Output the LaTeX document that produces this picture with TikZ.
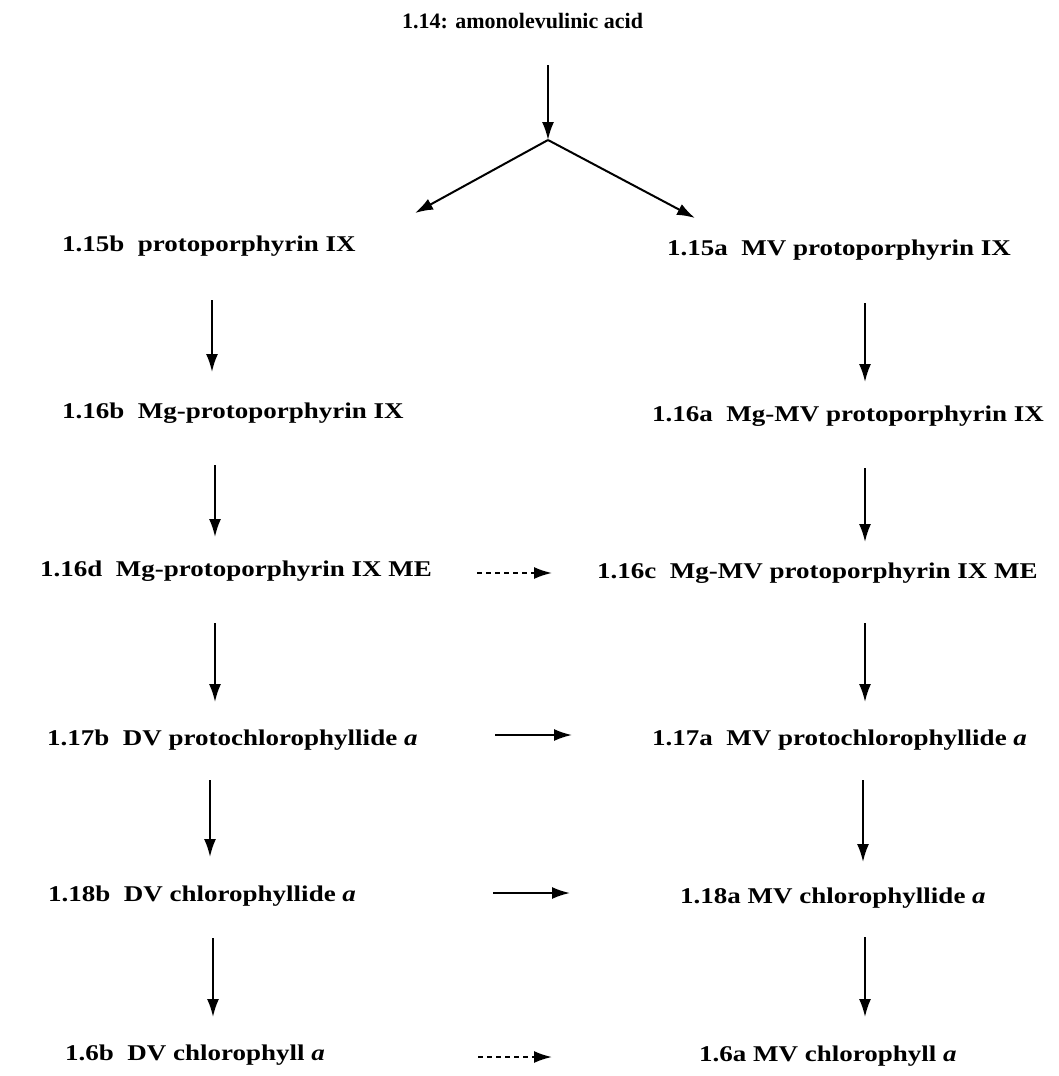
\documentclass[tikz,border=0pt]{standalone}
\usepackage{fontspec}
\setmainfont{Liberation Serif}[FakeStretch=1.2]
\newfontfamily\titlefont{Liberation Serif}
\usetikzlibrary{arrows.meta}
\begin{document}
\begin{tikzpicture}[x=1pt,y=-1pt,
  lbl/.style={anchor=base west,inner sep=0pt,font=\fontsize{22.5}{26}\selectfont\bfseries},
  ttl/.style={anchor=base west,inner sep=0pt,font=\titlefont\fontsize{22}{26}\selectfont\bfseries},
  arr/.style={line width=2pt,-{Latex[length=18pt,width=12pt]}},
  darr/.style={line width=2pt,dash pattern=on 5pt off 4pt,-{Latex[length=18pt,width=12pt]}}]
\useasboundingbox[fill=white] (0,0) rectangle (1058,1076);
% title
\node[ttl] (t) at (402,28) {1.14: amonolevulinic acid};
% left column
\node[lbl] (l1) at (62,251) {1.15b\hspace{0.6em}protoporphyrin IX};
\node[lbl] (l2) at (62,418) {1.16b\hspace{0.6em}Mg-protoporphyrin IX};
\node[lbl] (l3) at (40,576) {1.16d\hspace{0.6em}Mg-protoporphyrin IX ME};
\node[lbl] (l4) at (47,745) {1.17b\hspace{0.6em}DV protochlorophyllide \textit{a}};
\node[lbl] (l5) at (48,901) {1.18b\hspace{0.6em}DV chlorophyllide \textit{a}};
\node[lbl] (l6) at (65,1060) {1.6b\hspace{0.6em}DV chlorophyll \textit{a}};
% right column
\node[lbl] (r1) at (667,255) {1.15a\hspace{0.6em}MV protoporphyrin IX};
\node[lbl] (r2) at (652,421) {1.16a\hspace{0.6em}Mg-MV protoporphyrin IX};
\node[lbl] (r3) at (597,578) {1.16c\hspace{0.6em}Mg-MV protoporphyrin IX ME};
\node[lbl] (r4) at (652,745) {1.17a\hspace{0.6em}MV protochlorophyllide \textit{a}};
\node[lbl] (r5) at (680,903) {1.18a MV chlorophyllide \textit{a}};
\node[lbl] (r6) at (699,1061) {1.6a MV chlorophyll \textit{a}};
% branch
\coordinate (b0) at (548,65);
\coordinate (bp) at (548,140);
\coordinate (bl) at (415,213);
\coordinate (br) at (695,218);
\draw[arr] (b0) -- (bp);
\draw[arr] (bp) -- (bl);
\draw[arr] (bp) -- (br);
% left verticals
\coordinate (a1s) at (212,300); \coordinate (a1e) at (212,372);
\coordinate (a2s) at (215,465); \coordinate (a2e) at (215,537);
\coordinate (a3s) at (215,623); \coordinate (a3e) at (215,702);
\coordinate (a4s) at (210,780); \coordinate (a4e) at (210,857);
\coordinate (a5s) at (213,938); \coordinate (a5e) at (213,1017);
\draw[arr] (a1s) -- (a1e);
\draw[arr] (a2s) -- (a2e);
\draw[arr] (a3s) -- (a3e);
\draw[arr] (a4s) -- (a4e);
\draw[arr] (a5s) -- (a5e);
% right verticals
\coordinate (c1s) at (865,303); \coordinate (c1e) at (865,382);
\coordinate (c2s) at (865,468); \coordinate (c2e) at (865,542);
\coordinate (c3s) at (865,623); \coordinate (c3e) at (865,702);
\coordinate (c4s) at (863,780); \coordinate (c4e) at (863,862);
\coordinate (c5s) at (865,937); \coordinate (c5e) at (865,1017);
\draw[arr] (c1s) -- (c1e);
\draw[arr] (c2s) -- (c2e);
\draw[arr] (c3s) -- (c3e);
\draw[arr] (c4s) -- (c4e);
\draw[arr] (c5s) -- (c5e);
% horizontals
\coordinate (h1s) at (477,573); \coordinate (h1e) at (552,573);
\coordinate (h2s) at (495,735); \coordinate (h2e) at (572,735);
\coordinate (h3s) at (493,893); \coordinate (h3e) at (570,893);
\coordinate (h4s) at (478,1057); \coordinate (h4e) at (552,1057);
\draw[darr] (h1s) -- (h1e);
\draw[arr] (h2s) -- (h2e);
\draw[arr] (h3s) -- (h3e);
\draw[darr] (h4s) -- (h4e);
\end{tikzpicture}
\end{document}
